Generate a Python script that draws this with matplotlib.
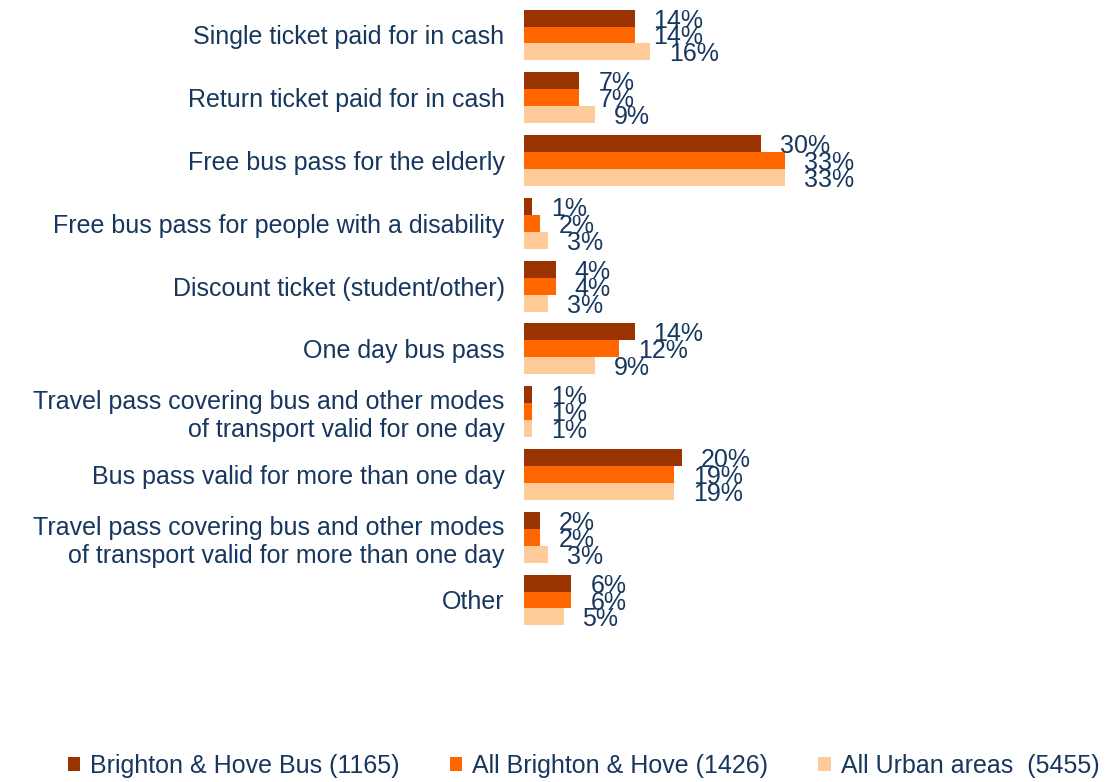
import matplotlib.pyplot as plt
import numpy as np

plt.rcParams['font.family'] = ['Liberation Sans', 'DejaVu Sans']

categories = [
    'Single ticket paid for in cash',
    'Return ticket paid for in cash',
    'Free bus pass for the elderly',
    'Free bus pass for people with a disability',
    'Discount ticket (student/other)',
    'One day bus pass',
    'Travel pass covering bus and other modes\nof transport valid for one day',
    'Bus pass valid for more than one day',
    'Travel pass covering bus and other modes\nof transport valid for more than one day',
    'Other',
]
bus_1165 = [14, 7, 30, 1, 4, 14, 1, 20, 2, 6]
all_bh_1426 = [14, 7, 33, 2, 4, 12, 1, 19, 2, 6]
urban_5455 = [16, 9, 33, 3, 3, 9, 1, 19, 3, 5]

series = [
    ('Brighton & Hove Bus (1165)', bus_1165, '#993300'),
    ('All Brighton & Hove (1426)', all_bh_1426, '#FF6600'),
    ('All Urban areas  (5455)', urban_5455, '#FFCC99'),
]

navy = '#17375E'
fs = 18

fig = plt.figure(figsize=(11.09, 7.82), dpi=100)
ax = fig.add_axes([0.4725, 0.1926, 0.285, 0.8028])

y = np.arange(len(categories))
h = 0.27
for i, (name, vals, color) in enumerate(series):
    pos = y + (i - 1) * h
    ax.barh(pos, vals, height=h, color=color, label=name)
    for p, v in zip(pos, vals):
        ax.text(v + 2.4, p + 0.04, f'{v}%', va='center', ha='left',
                fontsize=fs, color=navy, clip_on=False)

ax.set_xlim(0, 40)
ax.set_ylim(-0.5, len(categories) - 0.5)
ax.invert_yaxis()
ax.set_yticks(y)
ax.set_yticklabels(categories, fontsize=fs, color=navy, linespacing=1.2)
ax.tick_params(axis='y', length=0, pad=14)
ax.set_xticks([])
for s in ax.spines.values():
    s.set_visible(False)

fig.legend(loc='center', bbox_to_anchor=(0.526, 0.021), ncol=3, frameon=False,
           fontsize=fs, labelcolor=navy, handlelength=0.5, handleheight=0.5,
           handletextpad=0.4, columnspacing=2.0)

fig.savefig('out.png', dpi=100)
